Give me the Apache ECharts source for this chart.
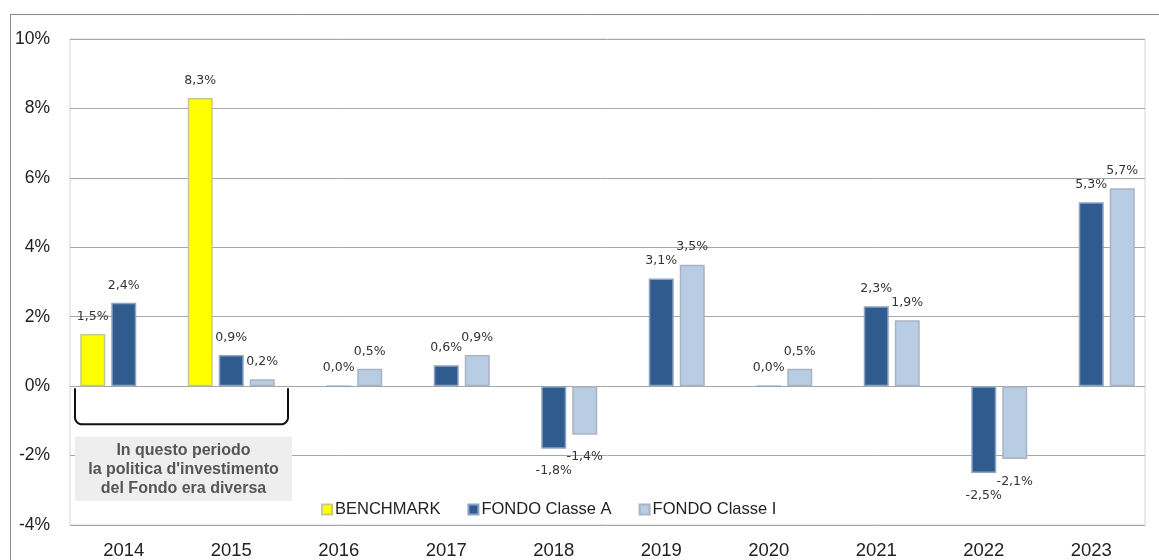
<!DOCTYPE html>
<html>
<head>
<meta charset="utf-8">
<script src="https://cdn.jsdelivr.net/npm/echarts@6/dist/echarts.min.js"></script>
<style>
html,body{margin:0;padding:0;background:#fff;}
#chart{width:1159px;height:560px;}
</style>
</head>
<body>
<div id="chart"></div>
<script>
const years = ['2014','2015','2016','2017','2018','2019','2020','2021','2022','2023'];
const benchmark = [1.5, 8.3, null, null, null, null, null, null, null, null];
const classeA = [2.4, 0.9, 0.0, 0.6, -1.8, 3.1, 0.0, 2.3, -2.5, 5.3];
const classeI = [null, 0.2, 0.5, 0.9, -1.4, 3.5, 0.5, 1.9, -2.1, 5.7];
const yTicks = {min: -4, max: 10, interval: 2};
const noteLines = ['In questo periodo', "la politica d'investimento", 'del Fondo era diversa'];

const chart = echarts.init(document.getElementById('chart'), null, {renderer: 'canvas'});

function fmt(v) { return v.toFixed(1).replace('.', ',') + '%'; }

const labelCommon = {
  show: true,
  fontFamily: 'DejaVu Sans',
  fontSize: 12.5,
  color: '#333',
  formatter: p => (p.value === null || p.value === undefined) ? '' : fmt(p.value)
};

function makeSeries(name, data, color, border) {
  return {
    name: name,
    type: 'bar',
    barWidth: 25,
    barGap: '24%',
    data: data.map(v => ({
      value: v,
      label: Object.assign({}, labelCommon, {
        position: v !== null && v < 0 ? 'bottom' : 'top',
        distance: v !== null && v < 0 ? 16 : 11
      })
    })),
    itemStyle: {color: color, borderColor: border, borderWidth: 1.5},
    emphasis: {disabled: true}
  };
}

const option = {
  animation: false,
  backgroundColor: '#fff',
  grid: {left: 70, right: 14, top: 39, bottom: 33, show: true, borderColor: '#d4d4d4', borderWidth: 1},
  legend: {
    left: 316, top: 496,
    itemWidth: 10, itemHeight: 10, itemGap: 27,
    icon: 'rect',
    textStyle: {fontFamily: 'Liberation Sans', fontSize: 16.5, color: '#222', padding: [0, 0, 0, -2]},
    data: ['BENCHMARK', 'FONDO Classe A', 'FONDO Classe I']
  },
  xAxis: {
    type: 'category',
    data: years,
    position: 'bottom',
    axisLine: {onZero: false, show: false},
    axisTick: {show: false},
    axisLabel: {fontFamily: 'Liberation Sans', fontSize: 18.5, color: '#222', margin: 16}
  },
  yAxis: {
    type: 'value',
    min: yTicks.min, max: yTicks.max, interval: yTicks.interval,
    axisLine: {show: false},
    axisTick: {show: false},
    splitLine: {lineStyle: {color: '#a6a6a6', width: 1}},
    axisLabel: {fontFamily: 'Liberation Sans', fontSize: 17.5, color: '#222', margin: 20,
      formatter: v => v + '%'}
  },
  series: [
    makeSeries('BENCHMARK', benchmark, '#ffff00', '#c9c98c'),
    makeSeries('FONDO Classe A', classeA, '#2f5b8e', '#8ca4c2'),
    makeSeries('FONDO Classe I', classeI, '#b8cce4', '#a8b4c4')
  ]
};
chart.setOption(option);

// annotations placed through the chart's own scales
const band = chart.convertToPixel({xAxisIndex: 0}, '2015') - chart.convertToPixel({xAxisIndex: 0}, '2014');
const x0 = chart.convertToPixel({xAxisIndex: 0}, '2014') - band / 2 + 5;
const x1 = chart.convertToPixel({xAxisIndex: 0}, '2015') + band / 2 + 3;
const yZero = chart.convertToPixel({yAxisIndex: 0}, 0) + 2;
const yBr = chart.convertToPixel({yAxisIndex: 0}, -1.1);
const boxTop = chart.convertToPixel({yAxisIndex: 0}, -1.45);
const boxBot = chart.convertToPixel({yAxisIndex: 0}, -3.3);
const r = 7;
const pts = [[x0, yZero]];
for (let i = 0; i <= 8; i++) {
  const a = Math.PI - i * Math.PI / 16;
  pts.push([x0 + r + r * Math.cos(a), yBr - r + r * Math.sin(a)]);
}
for (let i = 0; i <= 8; i++) {
  const a = Math.PI / 2 - i * Math.PI / 16;
  pts.push([x1 - r + r * Math.cos(a), yBr - r + r * Math.sin(a)]);
}
pts.push([x1, yZero]);

chart.setOption({
  graphic: [
    {type: 'line', shape: {x1: 10, y1: 14.5, x2: 1159, y2: 14.5}, style: {stroke: '#8a8a8a', lineWidth: 1}, silent: true},
    {type: 'line', shape: {x1: 10.5, y1: 14, x2: 10.5, y2: 560}, style: {stroke: '#8a8a8a', lineWidth: 1}, silent: true},
    {type: 'polyline', shape: {points: pts}, style: {fill: null, stroke: '#111', lineWidth: 2}, silent: true, z: 10},
    {type: 'rect', shape: {x: x0, y: boxTop, width: x1 + 4 - x0, height: boxBot - boxTop}, style: {fill: '#eeeeee'}, silent: true, z: 10},
    {type: 'text', x: (x0 + x1 + 4) / 2, y: (boxTop + boxBot) / 2 + 1, z: 11, silent: true,
      style: {text: noteLines.join('\n'), align: 'center', verticalAlign: 'middle',
        fontFamily: 'Liberation Sans', fontWeight: 'bold', fontSize: 16, lineHeight: 19, fill: '#555'}}
  ]
});
</script>
</body>
</html>
